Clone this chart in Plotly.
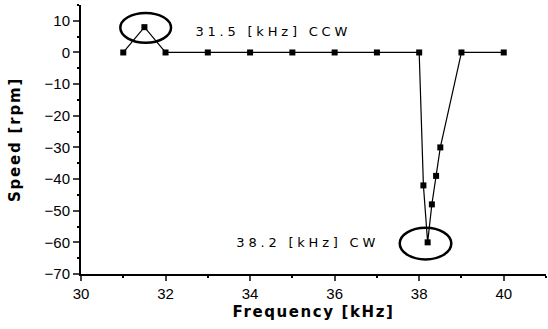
import plotly.graph_objects as go

freq_khz = [31, 31.5, 32, 33, 34, 35, 36, 37, 38, 38.1, 38.2, 38.3, 38.4, 38.5, 39, 40]
speed_rpm = [0, 8, 0, 0, 0, 0, 0, 0, 0, -42, -60, -48, -39, -30, 0, 0]

ccw_label = "31.5 [kHz] CCW"
cw_label = "38.2 [kHz] CW"
x_ticks = [30, 32, 34, 36, 38, 40]
y_ticks = [10, 0, -10, -20, -30, -40, -50, -60, -70]

fig = go.Figure()
fig.add_trace(go.Scatter(
    x=freq_khz, y=speed_rpm, mode="lines+markers",
    line=dict(color="black", width=1.2),
    marker=dict(symbol="square", size=6, color="black"),
    showlegend=False, hoverinfo="skip",
))

# ellipses around the two peaks
fig.add_shape(type="circle", xref="x", yref="y",
              x0=31.53 - 0.6, x1=31.53 + 0.6, y0=7.8 - 4.7, y1=7.8 + 4.7,
              line=dict(color="black", width=2.5))
fig.add_shape(type="circle", xref="x", yref="y",
              x0=38.15 - 0.61, x1=38.15 + 0.61, y0=-60.4 - 5, y1=-60.4 + 5,
              line=dict(color="black", width=2.5))

fig.add_annotation(x=34.55, y=6.5, text=ccw_label, showarrow=False, xanchor="center",
                   yanchor="middle", font=dict(family="DejaVu Sans", size=13, color="black"))
fig.add_annotation(x=35.37, y=-60.2, text=cw_label, showarrow=False, xanchor="center",
                   yanchor="middle", font=dict(family="DejaVu Sans", size=13, color="black"))

fig.update_layout(
    width=548, height=329,
    margin=dict(l=81, r=2, t=5, b=55),
    paper_bgcolor="white", plot_bgcolor="white",
    font=dict(family="Liberation Sans", size=13, color="black"),
)
fig.update_xaxes(
    range=[30, 41], tickvals=x_ticks, ticks="outside", ticklen=5, tickwidth=1.5,
    showline=True, linecolor="black", linewidth=2, showgrid=False, zeroline=False,
    minor=dict(dtick=1, ticks="outside", ticklen=2, tickcolor="black"),
    title=dict(text="<b>Frequency [kHz]</b>", font=dict(family="DejaVu Sans", size=15), standoff=5),
    tickfont=dict(size=15), automargin=False,
)
fig.update_yaxes(
    range=[-70, 15], tickvals=y_ticks, ticks="outside", ticklen=6, tickwidth=1.5,
    showline=True, linecolor="black", linewidth=2, showgrid=False, zeroline=False,
    minor=dict(dtick=5, ticks="outside", ticklen=2, tickcolor="black"),
    title=dict(text="<b>Speed [rpm]</b>", font=dict(family="DejaVu Sans", size=15), standoff=20),
    tickfont=dict(size=15), automargin=False,
)

post_js = """
document.body.style.margin='0';
document.querySelectorAll('.annotation-text').forEach(function(e){e.style.letterSpacing='3.8px';});
document.querySelectorAll('.xtitle').forEach(function(e){e.style.letterSpacing='1.6px';});
document.querySelectorAll('.ytitle').forEach(function(e){e.style.letterSpacing='1.8px';});
"""
fig.write_html("out.html", post_script=post_js, config={"displayModeBar": False})
